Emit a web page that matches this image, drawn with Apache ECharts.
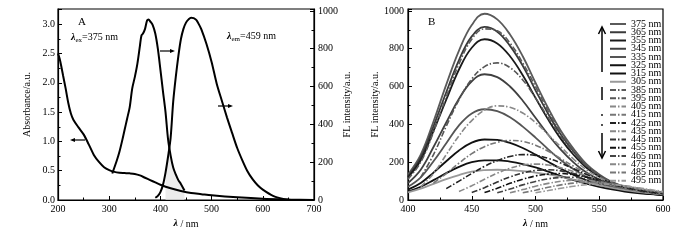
<!DOCTYPE html>
<html>
<head>
<meta charset="utf-8">
<script src="https://cdn.jsdelivr.net/npm/echarts@6/dist/echarts.min.js"></script>
<style>
  html, body { margin: 0; padding: 0; background: #fff; }
  #chart { width: 700px; height: 240px; }
</style>
</head>
<body>
<div id="chart"></div>
<script>
// ---- panel A: absorbance (left axis) ----
const absX = [200, 203, 206, 210, 215, 220, 225, 230, 240, 250, 260, 270, 280, 290, 300, 310, 320, 330, 340, 350,
  360, 370, 380, 390, 400, 420, 440, 460, 480, 500, 550, 600, 650, 700];
const absY = [2.5, 2.42, 2.3, 2.12, 1.9, 1.66, 1.48, 1.37, 1.24, 1.12, 0.95, 0.77, 0.65, 0.56, 0.51, 0.48, 0.465, 0.46, 0.455, 0.445,
  0.42, 0.38, 0.34, 0.3, 0.26, 0.2, 0.155, 0.12, 0.1, 0.08, 0.045, 0.02, 0.008, 0.0];

// ---- panel A: excitation + emission (right axis) ----
const excX = [306, 315, 320, 325, 330, 335, 340, 345, 350, 355, 360, 363, 366, 370, 374, 377, 380, 385, 390, 395,
  400, 405, 410, 415, 420, 425, 430, 435, 440, 447];
const excY = [140, 210, 255, 310, 370, 430, 490, 590, 650, 720, 815, 870, 880, 905, 950, 955, 945, 925, 880, 800,
  690, 575, 465, 320, 235, 172, 135, 105, 85, 50];
const emX = [390, 395, 400, 405, 410, 415, 420, 425, 430, 435, 440, 445, 450, 455, 460, 465, 470, 475, 480, 490,
  500, 510, 520, 530, 540, 550, 560, 570, 580, 590, 600, 620, 640, 655];
const emY = [12, 22, 42, 80, 145, 230, 330, 520, 650, 760, 850, 905, 938, 955, 964, 962, 952, 930, 902, 825,
  730, 615, 525, 437, 355, 275, 210, 152, 110, 78, 55, 22, 6, 0];
// overlap shading between excitation and emission
const ovX = [410, 415, 417, 420, 425, 430, 435, 440, 447];
const ovY = [145, 230, 300, 235, 172, 135, 105, 85, 50];

// ---- panel B ----
const bX = [400, 410, 420, 430, 440, 450, 460, 470, 480, 490, 500, 510, 520, 530, 540, 550, 560, 570, 580, 590, 600];
const bNames = ['375 nm', '365 nm', '355 nm', '345 nm', '335 nm', '325 nm', '315 nm', '305 nm',
  '385 nm', '395 nm', '405 nm', '415 nm', '425 nm', '435 nm', '445 nm', '455 nm', '465 nm', '475 nm', '485 nm', '495 nm'];
const e375 = [135, 240, 415, 610, 790, 925, 985, 955, 875, 760, 620, 485, 365, 270, 190, 135, 95, 70, 52, 40, 32];
const e365 = [125, 225, 390, 570, 740, 865, 915, 890, 815, 710, 580, 455, 345, 255, 180, 130, 92, 68, 50, 39, 31];
const e355 = [120, 210, 365, 530, 690, 805, 850, 828, 760, 660, 540, 425, 322, 238, 170, 123, 88, 65, 48, 37, 30];
const e345 = [90, 160, 280, 410, 535, 628, 665, 650, 600, 525, 435, 345, 265, 198, 145, 108, 80, 60, 45, 35, 28];
const e335 = [70, 120, 205, 300, 395, 458, 480, 470, 438, 388, 330, 268, 210, 162, 122, 93, 70, 54, 42, 33, 27];
const e325 = [55, 90, 145, 205, 262, 303, 320, 318, 302, 275, 240, 202, 165, 132, 104, 82, 63, 50, 40, 32, 26];
const e315 = [45, 70, 105, 142, 175, 200, 210, 210, 203, 190, 172, 150, 127, 105, 86, 70, 56, 45, 37, 31, 26];
const e305 = [40, 60, 85, 110, 132, 150, 158, 160, 158, 153, 145, 135, 122, 108, 93, 78, 64, 52, 43, 36, 30];
const e385 = [110, 200, 360, 545, 720, 850, 905, 895, 830, 725, 600, 470, 355, 262, 187, 133, 95, 70, 52, 40, 32];
const e395 = [null, 120, 240, 390, 530, 640, 705, 725, 700, 635, 540, 435, 335, 250, 180, 130, 93, 68, 50, 39, 31];
const e405 = [null, 70, 140, 240, 340, 420, 475, 498, 490, 460, 410, 345, 280, 215, 160, 120, 88, 65, 48, 37, 30];
const e415 = [null, null, 90, 140, 195, 245, 282, 305, 315, 310, 290, 258, 218, 178, 140, 108, 82, 62, 47, 37, 30];
const e425 = [null, null, null, 60, 100, 140, 178, 208, 230, 240, 236, 220, 195, 165, 135, 108, 85, 66, 51, 40, 32];
const e435 = [null, null, null, null, 45, 75, 110, 142, 168, 184, 190, 185, 170, 150, 127, 104, 83, 65, 51, 41, 33];
const e445 = [null, null, null, null, null, 40, 65, 95, 122, 143, 156, 160, 154, 140, 122, 102, 83, 66, 52, 42, 34];
const e455 = [null, null, null, null, null, null, 40, 62, 88, 110, 127, 137, 140, 133, 120, 103, 85, 69, 55, 44, 35];
const e465 = [null, null, null, null, null, null, null, 38, 58, 80, 98, 112, 119, 120, 113, 101, 87, 72, 58, 47, 38];
const e475 = [null, null, null, null, null, null, null, null, 38, 55, 73, 88, 99, 105, 103, 96, 85, 72, 60, 49, 40];
const e485 = [null, null, null, null, null, null, null, null, null, 38, 52, 67, 80, 89, 94, 92, 85, 75, 63, 52, 42];
const e495 = [null, null, null, null, null, null, null, null, null, null, 38, 50, 62, 73, 81, 85, 82, 75, 65, 55, 45];
const bValues = [e375, e365, e355, e345, e335, e325, e315, e305,
  e385, e395, e405, e415, e425, e435, e445, e455, e465, e475, e485, e495];
const bColors = ['#5a5a5a', '#3a3a3a', '#1a1a1a', '#404040', '#555', '#111', '#111', '#999',
  '#5a5a5a', '#555', '#888', '#777', '#222', '#888', '#333', '#111', '#444', '#888', '#777', '#999'];

const serif = '"Liberation Serif", "DejaVu Serif", serif';
const pairs = (xs, ys) => xs.map((x, i) => [x, ys[i]]);

const chart = echarts.init(document.getElementById('chart'));

function axisBase(min, max, interval, extra) {
  return Object.assign({
    type: 'value', min: min, max: max, interval: interval,
    axisLine: { show: true, lineStyle: { color: '#000', width: 1.2 } },
    axisTick: { show: true, inside: true, length: 4, lineStyle: { color: '#000' } },
    minorTick: { show: true, splitNumber: 2, length: 2.5, lineStyle: { color: '#000' } },
    splitLine: { show: false },
    axisLabel: { color: '#000', fontFamily: serif, fontSize: 10, margin: 4, showMaxLabel: false,
      formatter: v => String(v) },
    nameTextStyle: { color: '#000', fontFamily: serif, fontSize: 10,
      rich: { i: { fontStyle: 'italic', fontWeight: 'bold', fontFamily: serif, fontSize: 10 } } }
  }, extra);
}
const xLabel = { color: '#000', fontFamily: serif, fontSize: 10, margin: 4, showMaxLabel: true, showMinLabel: true,
  formatter: v => String(v) };

const series = [
  { name: 'ov', type: 'line', xAxisIndex: 0, yAxisIndex: 1, data: pairs(ovX, ovY), symbol: 'none',
    lineStyle: { width: 0 }, areaStyle: { color: '#e4e4e4' }, silent: true, z: 1 },
  { name: 'abs', type: 'line', xAxisIndex: 0, yAxisIndex: 0, data: pairs(absX, absY), symbol: 'none', smooth: 0.3,
    lineStyle: { color: '#000', width: 2 } },
  { name: 'exc', type: 'line', xAxisIndex: 0, yAxisIndex: 1, data: pairs(excX, excY), symbol: 'none', smooth: 0.3,
    lineStyle: { color: '#000', width: 2 } },
  { name: 'em', type: 'line', xAxisIndex: 0, yAxisIndex: 1, data: pairs(emX, emY), symbol: 'none', smooth: 0.3,
    lineStyle: { color: '#000', width: 2 } }
];
bNames.forEach((n, k) => {
  series.push({
    name: n, type: 'line', xAxisIndex: 1, yAxisIndex: 2, symbol: 'none', smooth: 0.4,
    data: pairs(bX, bValues[k]),
    color: bColors[k],
    itemStyle: { color: bColors[k] },
    lineStyle: { color: bColors[k], width: k < 8 ? 1.8 : 1.6, type: k < 8 ? 'solid' : [6, 2, 1.5, 2] }
  });
});

function solidArrow(x1, x2, y) {
  const d = x2 > x1 ? 1 : -1;
  return [
    { type: 'line', shape: { x1: x1, y1: y, x2: x2 - d * 4, y2: y }, style: { stroke: '#000', lineWidth: 1.2 } },
    { type: 'polygon', shape: { points: [[x2, y], [x2 - d * 5, y - 2], [x2 - d * 5, y + 2]] }, style: { fill: '#000' } }
  ];
}
// open chevron head; dir = 1 points up, -1 points down
function openHead(x, y, dir) {
  return { type: 'polyline', shape: { points: [[x - 3.5, y + dir * 7], [x, y], [x + 3.5, y + dir * 7]] },
    style: { stroke: '#000', lineWidth: 1.5, fill: null } };
}

const graphic = [].concat(
  solidArrow(85, 70, 140),
  solidArrow(160, 175, 51),
  solidArrow(218, 233, 106),
  [
    { type: 'text', x: 78, y: 17, style: { text: 'A', fontFamily: serif, fontSize: 11, fill: '#000' } },
    { type: 'text', x: 71, y: 31, style: { text: '{l|λ}{s|ex}=375 nm', fontFamily: serif, fontSize: 10, fill: '#000',
      rich: { l: { fontStyle: 'italic', fontWeight: 'bold', fontFamily: serif, fontSize: 10 },
              s: { fontFamily: serif, fontSize: 7, padding: [6, 0, 0, 0] } } } },
    { type: 'text', x: 227, y: 30, style: { text: '{l|λ}{s|em}=459 nm', fontFamily: serif, fontSize: 10, fill: '#000',
      rich: { l: { fontStyle: 'italic', fontWeight: 'bold', fontFamily: serif, fontSize: 10 },
              s: { fontFamily: serif, fontSize: 7, padding: [6, 0, 0, 0] } } } },
    { type: 'text', x: 428, y: 17, style: { text: 'B', fontFamily: serif, fontSize: 11, fill: '#000' } },
    // vertical indicator in panel B
    { type: 'line', shape: { x1: 602, y1: 28, x2: 602, y2: 72 }, style: { stroke: '#000', lineWidth: 1.5 } },
    openHead(602, 27, 1),
    { type: 'line', shape: { x1: 602, y1: 87, x2: 602, y2: 100 }, style: { stroke: '#000', lineWidth: 1.5 } },
    { type: 'circle', shape: { cx: 602, cy: 115, r: 0.9 }, style: { fill: '#000' } },
    { type: 'circle', shape: { cx: 602, cy: 125, r: 0.9 }, style: { fill: '#000' } },
    { type: 'line', shape: { x1: 602, y1: 133, x2: 602, y2: 157 }, style: { stroke: '#000', lineWidth: 1.5 } },
    openHead(602, 158, -1)
  ]
);

chart.setOption({
  animation: false,
  backgroundColor: '#fff',
  grid: [
    { left: 58, top: 9, width: 256, height: 191, show: true, borderColor: '#000', borderWidth: 1.2, containLabel: false },
    { left: 408, top: 9, width: 255, height: 191, show: true, borderColor: '#000', borderWidth: 1.2, containLabel: false }
  ],
  xAxis: [
    axisBase(200, 700, 100, { gridIndex: 0, name: '{i|λ} / nm', nameLocation: 'middle', nameGap: 18, axisLabel: xLabel }),
    axisBase(400, 600, 50, { gridIndex: 1, name: '{i|λ} / nm', nameLocation: 'middle', nameGap: 18, axisLabel: xLabel })
  ],
  yAxis: [
    axisBase(0, 3.26, 0.5, { gridIndex: 0, name: 'Absorbance/a.u.', nameLocation: 'middle', nameGap: 26,
      axisLabel: { color: '#000', fontFamily: serif, fontSize: 10, margin: 3, showMaxLabel: false,
        formatter: v => v.toFixed(1) } }),
    axisBase(0, 1010, 200, { gridIndex: 0, position: 'right', name: 'FL intensity/a.u.', nameLocation: 'middle', nameGap: 28,
      nameRotate: 90 }),
    axisBase(0, 1010, 200, { gridIndex: 1, name: 'FL intensity/a.u.', nameLocation: 'middle', nameGap: 27 })
  ],
  legend: {
    data: bNames, orient: 'vertical', left: 609, top: 19, padding: 0, itemWidth: 16, itemHeight: 8, itemGap: -1.75,
    itemStyle: { opacity: 0 },
    textStyle: { color: '#000', fontFamily: serif, fontSize: 10, lineHeight: 8.7 },
    selectedMode: false
  },
  series: series,
  graphic: graphic
});
</script>
</body>
</html>
